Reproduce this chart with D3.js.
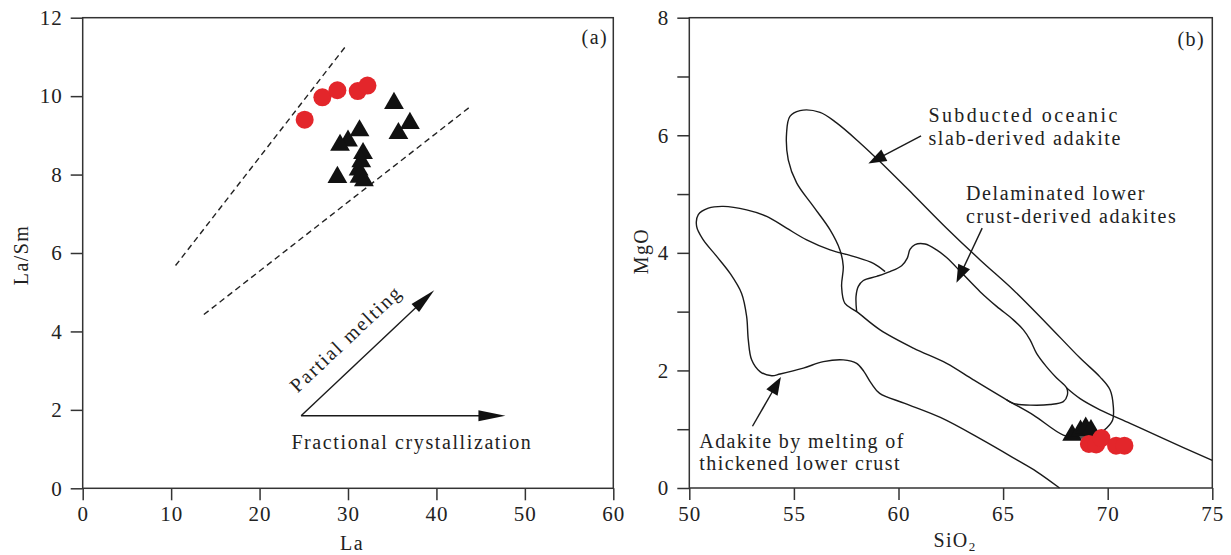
<!DOCTYPE html>
<meta charset="utf-8">
<style>
    body { margin: 0; background: #fff; }
    svg text { font-family: "Liberation Serif", "Times New Roman", serif; fill: #222; }
    .axis line { stroke: #333; stroke-width: 1.5px; }
    .frame { fill: none; stroke: #333; stroke-width: 1.5px; }
    .field { fill: none; stroke: #1a1a1a; stroke-width: 1.4px; }
    .note { font-size: 20px; letter-spacing: 1.4px; }
    .tick text { font-size: 21px; letter-spacing: 1px; }
</style>
<svg width="1231" height="555"></svg>
<script src="https://d3js.org/d3.v7.min.js"></script>
<script>

    // ---- panel (a): La vs La/Sm ----
    var aCircleLa    = [25.1, 27.1, 28.8, 31.1, 32.2];
    var aCircleRatio = [9.40, 9.97, 10.15, 10.13, 10.27];
    var aTriLa       = [35.2, 37.0, 35.7, 31.3, 30.0, 29.1, 31.7, 31.5, 31.2, 28.8, 31.3, 31.8];
    var aTriRatio    = [9.82, 9.31, 9.05, 9.12, 8.86, 8.75, 8.54, 8.33, 8.12, 7.93, 7.94, 7.85];
    var aXTicks = [0, 10, 20, 30, 40, 50, 60];
    var aYTicks = [0, 2, 4, 6, 8, 10, 12];
    // dashed trend limits
    var aUpperLa = [10.5, 29.7], aUpperRatio = [5.68, 11.26];
    var aLowerLa = [13.7, 43.7], aLowerRatio = [4.43, 9.71];
    // process vectors
    var pmLa = [24.7, 39.75], pmRatio = [1.85, 5.05];
    var fcLa = [24.7, 47.8],  fcRatio = [1.85, 1.85];

    // ---- panel (b): SiO2 vs MgO ----
    var bTriSi   = [68.3, 68.7, 68.95, 69.2];
    var bTriMg   = [0.90, 0.97, 1.02, 0.98];
    var bCircSi  = [69.1, 69.45, 69.7, 70.4, 70.8];
    var bCircMg  = [0.75, 0.74, 0.85, 0.72, 0.72];
    var bXTicks = [50, 55, 60, 65, 70, 75];
    var bYTicks = [0, 1, 2, 3, 4, 5, 6, 7, 8];

    var slabSi = [55.29, 56.25, 57.04, 58.16, 59.12, 60.71, 62.30, 63.90, 65.49, 67.08, 68.68, 69.63, 70.11, 70.27, 70.24, 69.95, 69.47, 68.68, 67.88, 66.45, 65.17, 63.58, 62.30, 60.71, 59.12, 58.0, 57.44, 57.28, 57.36, 57.2, 56.73, 55.93, 55.13, 54.73, 54.65, 54.81];
    var slabMg = [6.42, 6.39, 6.21, 5.87, 5.55, 4.99, 4.42, 3.88, 3.37, 2.80, 2.21, 1.89, 1.67, 1.38, 1.16, 1.02, 0.90, 0.85, 0.90, 1.24, 1.50, 1.84, 2.12, 2.38, 2.69, 3.00, 3.14, 3.43, 3.77, 4.05, 4.39, 4.79, 5.19, 5.58, 6.04, 6.32];

    var delamSi = [58.0, 57.97, 58.08, 58.32, 58.96, 59.59, 60.15, 60.42, 60.55, 60.79, 61.27, 61.82, 62.3, 63.1, 63.9, 64.69, 65.49, 65.97, 66.29, 66.6, 67.08, 67.56, 68.04, 68.07, 67.88, 67.24, 66.29, 65.49, 65.17];
    var delamMg = [3.0, 3.26, 3.43, 3.53, 3.60, 3.68, 3.78, 3.91, 4.06, 4.14, 4.15, 4.05, 3.92, 3.63, 3.34, 3.09, 2.86, 2.69, 2.52, 2.29, 2.06, 1.87, 1.70, 1.58, 1.47, 1.42, 1.41, 1.44, 1.50];

    var extSi = [68.04, 68.68, 69.63, 71.07, 72.54, 75.0];
    var extMg = [1.70, 1.52, 1.33, 1.10, 0.86, 0.47];

    var thickSi = [59.36, 58.8, 57.84, 56.73, 55.61, 54.65, 53.7, 52.74, 51.63, 50.91, 50.43, 50.35, 50.67, 51.31, 51.95, 52.5, 52.74, 52.82, 52.98, 53.38, 53.94, 54.34, 55.45, 56.41, 57.36, 58.0, 58.35, 58.7, 59.1, 60.3, 62.0, 63.9, 65.7, 66.6, 67.7];
    var thickMg = [3.68, 3.82, 3.94, 4.05, 4.22, 4.42, 4.62, 4.73, 4.79, 4.76, 4.65, 4.45, 4.22, 3.94, 3.65, 3.31, 2.92, 2.52, 2.18, 1.98, 1.91, 1.94, 2.04, 2.15, 2.18, 2.12, 1.98, 1.78, 1.61, 1.44, 1.20, 0.84, 0.47, 0.28, 0.0];

    var svg = d3.select("svg");

    var A = {left: 82.7, right: 613.3, top: 17.7, bottom: 488.3};
    var B = {left: 689.3, right: 1212.3, top: 17.7, bottom: 488};

    var xa = d3.scaleLinear().domain([0, 60]).range([A.left, A.right]);
    var ya = d3.scaleLinear().domain([0, 12]).range([A.bottom, A.top]);
    var xb = d3.scaleLinear().domain([50, 75]).range([B.left, B.right]);
    var yb = d3.scaleLinear().domain([0, 8]).range([B.bottom, B.top]);

    function zip(xs, ys) {
        return xs.map(function(v, i) { return [v, ys[i]]; });
    }

    function drawAxes(x, y, box, xticks, yticks, yfmt) {
        var gx = svg.append("g")
            .attr("class", "axis")
            .attr("transform", "translate(0," + box.bottom + ")")
            .call(d3.axisBottom(x).tickValues(xticks).tickSize(12).tickSizeOuter(0).tickPadding(6));
        gx.select(".domain").remove();
        gx.attr("font-family", "Liberation Serif");

        var gy = svg.append("g")
            .attr("class", "axis")
            .attr("transform", "translate(" + box.left + ",0)")
            .call(d3.axisLeft(y).tickValues(yticks).tickSize(12).tickSizeOuter(0).tickPadding(8).tickFormat(yfmt));
        gy.select(".domain").remove();
        gy.attr("font-family", "Liberation Serif");

        svg.append("rect")
            .attr("class", "frame")
            .attr("x", box.left)
            .attr("y", box.top)
            .attr("width", box.right - box.left)
            .attr("height", box.bottom - box.top);
    }

    function arrow(x1, y1, x2, y2, len, wid) {
        var dx = x2 - x1, dy = y2 - y1, d = Math.sqrt(dx * dx + dy * dy);
        var ux = dx / d, uy = dy / d;
        var bx = x2 - ux * len, by = y2 - uy * len;
        svg.append("line")
            .attr("x1", x1).attr("y1", y1)
            .attr("x2", bx + ux * 2).attr("y2", by + uy * 2)
            .attr("stroke", "#1a1a1a")
            .attr("stroke-width", 1.4);
        svg.append("path")
            .attr("d", "M" + x2 + "," + y2 +
                "L" + (bx - uy * wid / 2) + "," + (by + ux * wid / 2) +
                "L" + (bx + uy * wid / 2) + "," + (by - ux * wid / 2) + "Z")
            .attr("fill", "#111");
    }

    var tri = d3.symbol().type(d3.symbolTriangle).size(170);

    // ================= panel (a) =================
    drawAxes(xa, ya, A, aXTicks, aYTicks, d3.format("d"));

    var dashA = d3.line().x(function(d) { return xa(d[0]); }).y(function(d) { return ya(d[1]); });
    [zip(aUpperLa, aUpperRatio), zip(aLowerLa, aLowerRatio)].forEach(function(seg) {
        svg.append("path")
            .attr("d", dashA(seg))
            .attr("fill", "none")
            .attr("stroke", "#222")
            .attr("stroke-width", 1.4)
            .attr("stroke-dasharray", "6,4");
    });

    svg.append("g")
        .selectAll("path")
        .data(zip(aTriLa, aTriRatio))
        .enter()
        .append("path")
        .attr("d", tri)
        .attr("transform", function(d) { return "translate(" + xa(d[0]) + "," + ya(d[1]) + ")"; })
        .attr("fill", "#111");

    svg.append("g")
        .selectAll("circle")
        .data(zip(aCircleLa, aCircleRatio))
        .enter()
        .append("circle")
        .attr("cx", function(d) { return xa(d[0]); })
        .attr("cy", function(d) { return ya(d[1]); })
        .attr("r", 9)
        .attr("fill", "#e3262b");

    arrow(xa(pmLa[0]), ya(pmRatio[0]), xa(pmLa[1]), ya(pmRatio[1]), 26, 11);
    arrow(xa(fcLa[0]), ya(fcRatio[0]), xa(fcLa[1]), ya(fcRatio[1]), 27, 11);

    var pmAngle = Math.atan2(ya(pmRatio[1]) - ya(pmRatio[0]), xa(pmLa[1]) - xa(pmLa[0])) * 180 / Math.PI;
    svg.append("text")
        .attr("class", "note")
        .attr("transform", "translate(" + xa(24.3) + "," + ya(2.42) + ") rotate(" + pmAngle + ")")
        .style("letter-spacing", "1.8px")
        .text("Partial melting");

    svg.append("text")
        .attr("class", "note")
        .attr("x", xa(23.6))
        .attr("y", ya(0.99))
        .style("letter-spacing", "1.6px")
        .text("Fractional crystallization");

    svg.append("text")
        .attr("class", "note")
        .attr("x", 608)
        .attr("y", 44)
        .attr("text-anchor", "end")
        .text("(a)");

    svg.append("text")
        .attr("class", "note")
        .attr("text-anchor", "middle")
        .attr("transform", "translate(28,255) rotate(-90)")
        .text("La/Sm");

    svg.append("text")
        .attr("class", "note")
        .attr("x", 352)
        .attr("y", 550)
        .attr("text-anchor", "middle")
        .text("La");

    // ================= panel (b) =================
    drawAxes(xb, yb, B, bXTicks, bYTicks, function(d) { return d % 2 ? "" : d; });

    var lineB = d3.line().x(function(d) { return xb(d[0]); }).y(function(d) { return yb(d[1]); });

    svg.append("path")
        .attr("class", "field")
        .attr("d", lineB.curve(d3.curveCatmullRomClosed)(zip(slabSi, slabMg)));
    svg.append("path")
        .attr("class", "field")
        .attr("d", lineB.curve(d3.curveCatmullRom)(zip(delamSi, delamMg)));
    svg.append("path")
        .attr("class", "field")
        .attr("d", lineB.curve(d3.curveCatmullRom)(zip(extSi, extMg)));
    svg.append("path")
        .attr("class", "field")
        .attr("d", lineB.curve(d3.curveCatmullRom)(zip(thickSi, thickMg)));

    arrow(xb(61.08), yb(5.99), xb(58.56), yb(5.52), 18, 13);
    arrow(xb(64.0), yb(4.42), xb(62.77), yb(3.49), 18, 13);
    arrow(xb(53.02), yb(1.05), xb(54.38), yb(1.89), 18, 13);

    svg.append("g")
        .selectAll("path")
        .data(zip(bTriSi, bTriMg))
        .enter()
        .append("path")
        .attr("d", tri)
        .attr("transform", function(d) { return "translate(" + xb(d[0]) + "," + yb(d[1]) + ")"; })
        .attr("fill", "#111");

    svg.append("g")
        .selectAll("circle")
        .data(zip(bCircSi, bCircMg))
        .enter()
        .append("circle")
        .attr("cx", function(d) { return xb(d[0]); })
        .attr("cy", function(d) { return yb(d[1]); })
        .attr("r", 9)
        .attr("fill", "#e3262b");

    var notes = [
        [61.43, 6.23, "Subducted oceanic", 2.4],
        [61.43, 5.84, "slab-derived adakite", 1.6],
        [63.23, 4.90, "Delaminated lower", 1.6],
        [63.23, 4.51, "crust-derived adakites", 1.6],
        [50.48, 0.68, "Adakite by melting of", 1.4],
        [50.48, 0.31, "thickened lower crust", 1.4]
    ];
    svg.append("g")
        .selectAll("text")
        .data(notes)
        .enter()
        .append("text")
        .attr("class", "note")
        .attr("x", function(d) { return xb(d[0]); })
        .attr("y", function(d) { return yb(d[1]); })
        .style("letter-spacing", function(d) { return d[3] + "px"; })
        .text(function(d) { return d[2]; });

    svg.append("text")
        .attr("class", "note")
        .attr("x", 1205)
        .attr("y", 46)
        .attr("text-anchor", "end")
        .text("(b)");

    svg.append("text")
        .attr("class", "note")
        .attr("text-anchor", "middle")
        .attr("transform", "translate(648,251) rotate(-90)")
        .text("MgO");

    var sio2 = svg.append("text")
        .attr("class", "note")
        .attr("x", 955)
        .attr("y", 547)
        .attr("text-anchor", "middle");
    sio2.append("tspan").text("SiO");
    sio2.append("tspan").attr("font-size", 13).attr("dy", 4).text("2");

</script>
